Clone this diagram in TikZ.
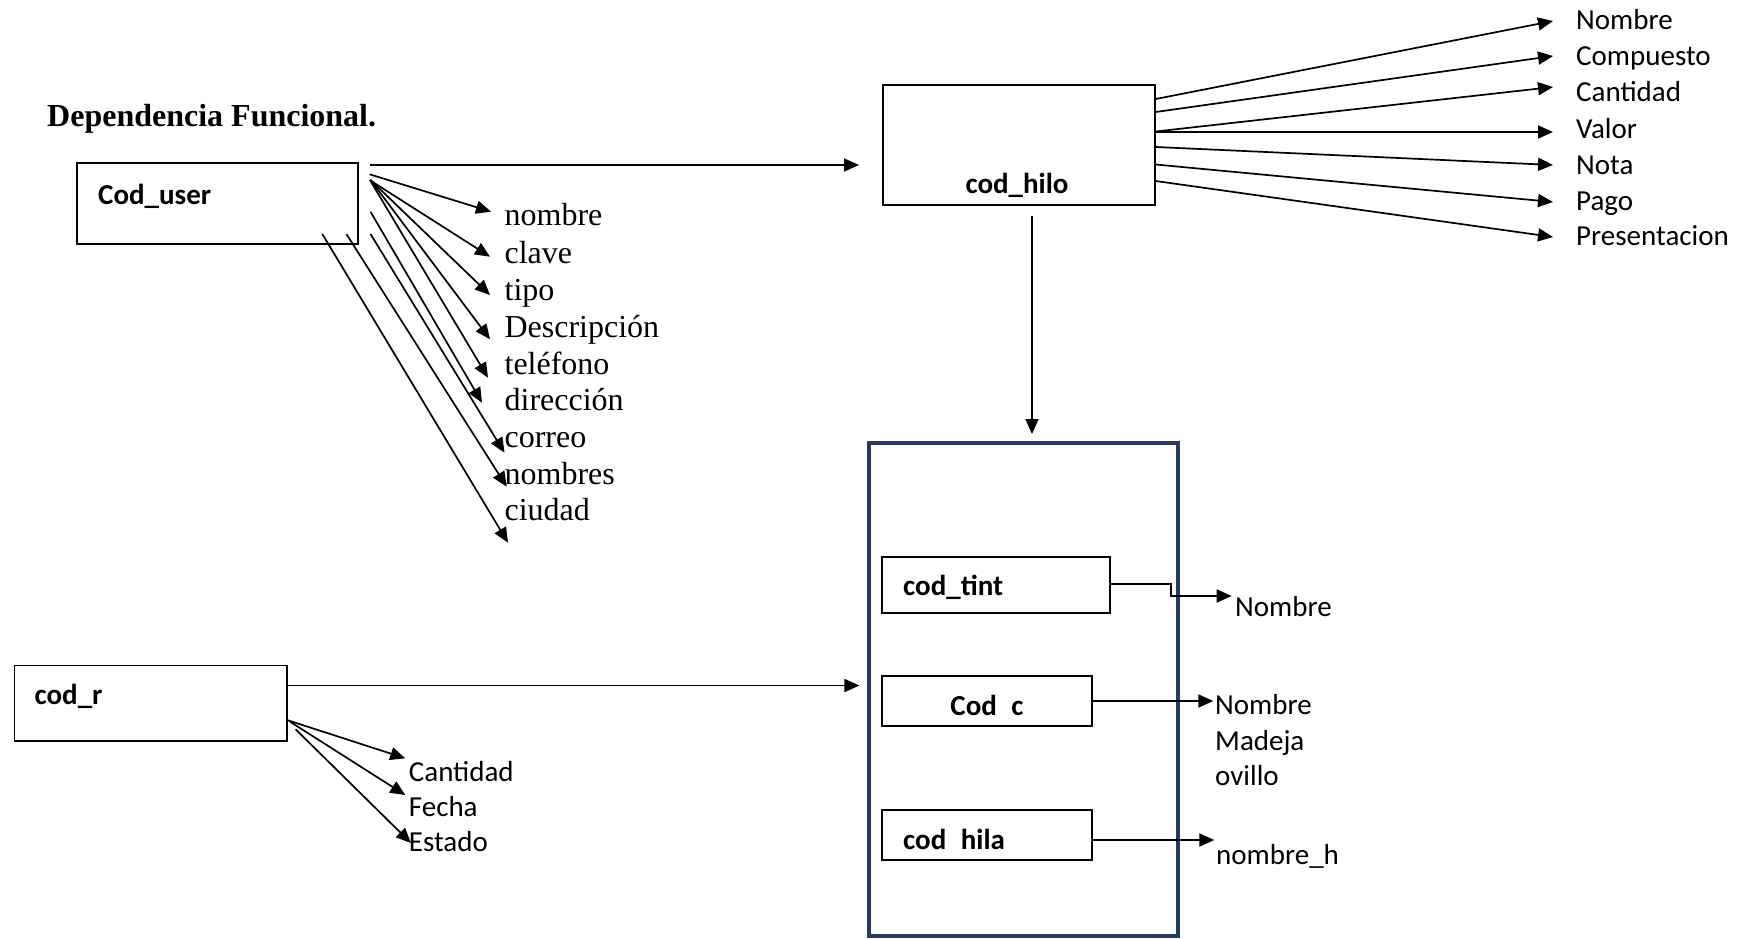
\documentclass[tikz,border=0pt]{standalone}
\usepackage{fontspec}
\setmainfont{Liberation Serif}
\newfontfamily\calibri{Carlito}
\usetikzlibrary{arrows.meta}
\definecolor{navy}{RGB}{38,60,95}
\begin{document}
\begin{tikzpicture}[x=1pt,y=-1pt,
  box/.style={draw=black,line width=1.8pt,inner sep=0pt},
  blbl/.style={inner sep=0pt,anchor=west,yshift=-6pt,font=\calibri\bfseries\fontsize{29}{35}\selectfont,text height=0.75em,text depth=0.15em},
  clbl/.style={inner sep=0pt,anchor=west,yshift=-6.5pt,font=\calibri\fontsize{29}{35}\selectfont,text height=0.75em,text depth=0.15em},
  tlbl/.style={inner sep=0pt,anchor=west,yshift=-7.8pt,font=\fontsize{32}{37}\selectfont,text height=0.75em,text depth=0.15em},
  arr/.style={line width=1.7pt,-{Triangle[length=15pt,width=13pt]}},
  ln/.style={line width=1.7pt}]
\useasboundingbox (0,0) rectangle (1746,938);

% title
\node[font=\bfseries\fontsize{32}{38}\selectfont,anchor=base west,inner sep=0pt] (title) at (47,126) {Dependencia Funcional.};

% Cod_user
\node[box,minimum width=281pt,minimum height=81pt] (cu) at (217.5,203.5) {};
\node[blbl] (cut) at (98,195) {Cod\_user};

% cod_hilo
\node[box,minimum width=272pt,minimum height=120pt] (hilo) at (1018.6,145) {};
\node[blbl,anchor=center] (hilot) at (1017,184) {cod\_hilo};

% cod_r
\node[box,minimum width=272.5pt,minimum height=75.5pt] (cr) at (150.75,703.25) {};
\node[blbl] (crt) at (34.4,695) {cod\_r};

% big container
\node[draw=navy,line width=4.3pt,inner sep=0pt,minimum width=309.3pt,minimum height=493pt] (big) at (1023.4,689.5) {};

% inner boxes
\node[box,minimum width=227.4pt,minimum height=56pt] (tint) at (996,584.7) {};
\node[blbl] (tintt) at (903,586.7) {cod\_tint};
\node[box,minimum width=210pt,minimum height=50.3pt] (cc) at (987.3,700.9) {};
\node[blbl,anchor=center] (cct) at (987,706) {Cod\phantom{\_}c};
\node[box,minimum width=210pt,minimum height=50pt] (hila) at (987.3,835) {};
\node[blbl] (hilat) at (903,840.7) {cod\phantom{\_}hila};

% Cod_user attribute labels
\node[tlbl] (u1) at (504.4,215) {nombre};
\node[tlbl] (u2) at (504.4,252.7) {clave};
\node[tlbl] (u3) at (504.4,290) {tipo};
\node[tlbl] (u4) at (504.4,326.7) {Descripción};
\node[tlbl] (u5) at (504.4,363.3) {teléfono};
\node[tlbl] (u6) at (504.4,400) {dirección};
\node[tlbl] (u7) at (504.4,436.7) {correo};
\node[tlbl] (u8) at (504.4,473.3) {nombres};
\node[tlbl] (u9) at (504.4,510) {ciudad};

% cod_hilo attribute labels
\node[clbl] (h1) at (1576,20) {Nombre};
\node[clbl] (h2) at (1576,56) {Compuesto};
\node[clbl] (h3) at (1576,92) {Cantidad};
\node[clbl] (h4) at (1576,129) {Valor};
\node[clbl] (h5) at (1576,165) {Nota};
\node[clbl] (h6) at (1576,200.5) {Pago};
\node[clbl] (h7) at (1576,236) {Presentacion};

% cod_r attribute labels
\node[clbl] (r1) at (408.7,771.7) {Cantidad};
\node[clbl] (r2) at (408.7,806.7) {Fecha};
\node[clbl] (r3) at (408.7,841.7) {Estado};

% inner attribute labels
\node[clbl] (tn) at (1235,606.7) {Nombre};
\node[clbl] (cn1) at (1215,705) {Nombre};
\node[clbl] (cn2) at (1215,740.7) {Madeja};
\node[clbl] (cn3) at (1215,776) {ovillo};
\node[clbl] (hn) at (1216,855) {nombre\_h};

% coordinates
\coordinate (cuA) at (370,165);
\coordinate (hiloIn) at (859,165);
\coordinate (crA) at (287,685.5);
\coordinate (bigIn) at (859.4,685.5);
\coordinate (hiloDn) at (1032,216);
\coordinate (bigTop) at (1032,434);

\coordinate (us1) at (369.6,174.3); \coordinate (ut1) at (491,211.7);
\coordinate (us2) at (369.6,180);   \coordinate (ut2) at (490,256.7);
\coordinate (us3) at (370.5,180);   \coordinate (ut3) at (490,295);
\coordinate (us4) at (370.5,180);   \coordinate (ut4) at (490,339.3);
\coordinate (us5) at (370.5,181);   \coordinate (ut5) at (488,377.7);
\coordinate (us6) at (370.5,211.7); \coordinate (ut6) at (482,402.7);
\coordinate (us7) at (370.5,234);   \coordinate (ut7) at (504.5,452.7);
\coordinate (us8) at (346.4,234);   \coordinate (ut8) at (506.7,486.7);
\coordinate (us9) at (322.3,234);   \coordinate (ut9) at (508,542.7);

\coordinate (hs1) at (1155.7,99);    \coordinate (ht1) at (1553,21);
\coordinate (hs2) at (1155.7,112);   \coordinate (ht2) at (1553,56);
\coordinate (hs3) at (1155.7,131.5); \coordinate (ht3) at (1553,87);
\coordinate (hs4) at (1155.7,132);   \coordinate (ht4) at (1553,132);
\coordinate (hs5) at (1155.7,147);   \coordinate (ht5) at (1553,165);
\coordinate (hs6) at (1155.7,164.5); \coordinate (ht6) at (1553,202);
\coordinate (hs7) at (1155.7,181);   \coordinate (ht7) at (1553,237);

\coordinate (rs1) at (287,720);     \coordinate (rt1) at (405.3,758.3);
\coordinate (rs2) at (290,721.7);   \coordinate (rt2) at (405.3,795);
\coordinate (rs3) at (295.6,729.3); \coordinate (rt3) at (411,843);

\coordinate (tA) at (1109.7,584.3);
\coordinate (tB) at (1170.7,584.3);
\coordinate (tC) at (1170.7,596);
\coordinate (tD) at (1231.7,596);
\coordinate (cA) at (1092.3,701);
\coordinate (cB) at (1213.3,701);
\coordinate (hA) at (1092.3,840);
\coordinate (hB) at (1214.3,840);

% connectors
\draw[arr] (cuA) -- (hiloIn);
\draw[arr] (crA) -- (bigIn);
\draw[arr] (hiloDn) -- (bigTop);
\foreach \i in {1,...,9} { \draw[arr] (us\i) -- (ut\i); }
\foreach \i in {1,...,7} { \draw[arr] (hs\i) -- (ht\i); }
\foreach \i in {1,2,3} { \draw[arr] (rs\i) -- (rt\i); }
\draw[arr] (tA) -- (tB) -- (tC) -- (tD);
\draw[arr] (cA) -- (cB);
\draw[arr] (hA) -- (hB);
\end{tikzpicture}
\end{document}
